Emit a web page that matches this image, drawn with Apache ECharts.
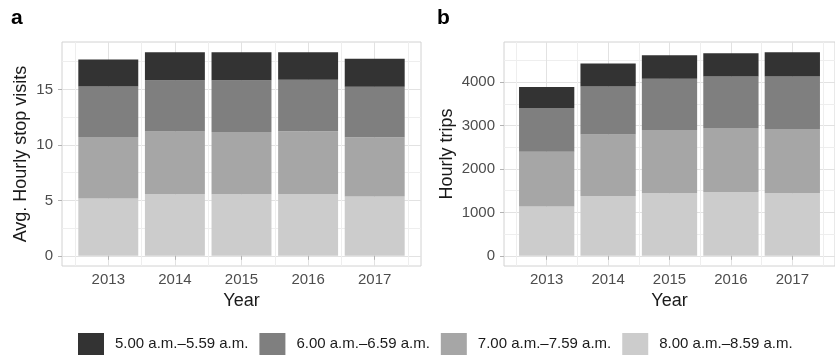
<!DOCTYPE html>
<html><head><meta charset="utf-8">
<script src="https://cdn.jsdelivr.net/npm/echarts@6/dist/echarts.min.js"></script>
<style>html,body{margin:0;padding:0;background:#fff}#c{width:835px;height:356px}</style>
</head><body><div id="c"></div>
<script>
const years = [2013, 2014, 2015, 2016, 2017];
const seriesNames = ['5.00 a.m.–5.59 a.m.', '6.00 a.m.–6.59 a.m.', '7.00 a.m.–7.59 a.m.', '8.00 a.m.–8.59 a.m.'];
// panel a: average hourly stop visits per time band
const visits5 = [2.43, 2.52, 2.52, 2.49, 2.52];
const visits6 = [4.56, 4.64, 4.67, 4.64, 4.56];
const visits7 = [5.55, 5.65, 5.62, 5.65, 5.33];
const visits8 = [5.16, 5.55, 5.55, 5.58, 5.35];
// panel b: hourly trips per time band
const trips5 = [482, 528, 543, 537, 560];
const trips6 = [1009, 1108, 1178, 1184, 1207];
const trips7 = [1262, 1416, 1461, 1477, 1484];
const trips8 = [1134, 1377, 1439, 1469, 1439];
// tick labels / gridline breaks
const ticksA = [0, 5, 10, 15];
const minorA = [2.5, 7.5, 12.5, 17.5];
const ticksB = [0, 1000, 2000, 3000, 4000];
const minorB = [500, 1500, 2500, 3500, 4500];
const minorX = [2012.5, 2013.5, 2014.5, 2015.5, 2016.5, 2017.5];
const colors = ['#333333', '#7f7f7f', '#a6a6a6', '#cccccc'];

const FONT = "'Liberation Sans', Arial, Helvetica, sans-serif";
const panelA = [visits5, visits6, visits7, visits8];
const panelB = [trips5, trips6, trips7, trips8];

function yExtent(panel) {
  const totals = years.map((_, i) => panel.reduce((s, arr) => s + arr[i], 0));
  const m = Math.max(...totals);
  return [-0.05 * m, 1.05 * m];
}
const lo = years[0] - 0.45, hi = years[years.length - 1] + 0.45;
const xExt = [lo - 0.05 * (hi - lo), hi + 0.05 * (hi - lo)];

function minorAxis(gi, ext, vals, pos) {
  return { type: 'value', gridIndex: gi, position: pos, min: ext[0], max: ext[1],
    axisLine: { show: false }, axisTick: { show: false, customValues: vals },
    axisLabel: { show: false }, splitLine: { show: true, lineStyle: { color: '#eeeeee', width: 1 } } };
}
function mainX(gi) {
  return { type: 'value', gridIndex: gi, position: 'bottom', min: xExt[0], max: xExt[1],
    axisLine: { show: false },
    axisTick: { show: true, length: 4, customValues: years, lineStyle: { color: '#b3b3b3' } },
    axisLabel: { customValues: years, formatter: v => String(v), color: '#4d4d4d', fontSize: 15, margin: 6, fontFamily: FONT },
    splitLine: { show: true, lineStyle: { color: '#e2e2e2', width: 1 } },
    name: 'Year', nameLocation: 'middle', nameGap: 24,
    nameTextStyle: { fontSize: 18, color: '#1a1a1a', fontFamily: FONT } };
}
function mainY(gi, ext, ticks, name, gap) {
  return { type: 'value', gridIndex: gi, position: 'left', min: ext[0], max: ext[1],
    axisLine: { show: false },
    axisTick: { show: true, length: 4, customValues: ticks, lineStyle: { color: '#b3b3b3' } },
    axisLabel: { customValues: ticks, formatter: v => String(v), color: '#4d4d4d', fontSize: 15, margin: 9, fontFamily: FONT },
    splitLine: { show: true, lineStyle: { color: '#e2e2e2', width: 1 } },
    name: name, nameLocation: 'middle', nameGap: gap,
    nameTextStyle: { fontSize: 18, color: '#1a1a1a', fontFamily: FONT } };
}
const extA = yExtent(panelA), extB = yExtent(panelB);

const series = [];
function addPanel(panel, xi, yi, stack) {
  for (let k = panel.length - 1; k >= 0; k--) {
    series.push({ type: 'bar', name: seriesNames[k], stack: stack, xAxisIndex: xi, yAxisIndex: yi,
      barWidth: '90%', itemStyle: { color: colors[k] },
      encode: { x: 1, y: 0 },
      data: years.map((y, i) => [panel[k][i], y]) });
  }
}
addPanel(panelA, 1, 1, 'a');
addPanel(panelB, 3, 3, 'b');

const option = {
  animation: false,
  backgroundColor: '#ffffff',
  title: [
    { text: 'a', left: 11, top: 8, padding: 0, textStyle: { fontSize: 21, fontWeight: 'bold', color: '#000', fontFamily: FONT } },
    { text: 'b', left: 437, top: 8, padding: 0, textStyle: { fontSize: 21, fontWeight: 'bold', color: '#000', fontFamily: FONT } }
  ],
  grid: [
    { left: 62, top: 42, width: 359, height: 224, show: true, borderColor: '#d2d2d2', borderWidth: 1, backgroundColor: '#fff' },
    { left: 504, top: 42, width: 342, height: 224, show: true, borderColor: '#d2d2d2', borderWidth: 1, backgroundColor: '#fff' }
  ],
  xAxis: [ minorAxis(0, xExt, minorX, 'top'), mainX(0), minorAxis(1, xExt, minorX, 'top'), mainX(1) ],
  yAxis: [ minorAxis(0, extA, minorA, 'right'), mainY(0, extA, ticksA, 'Avg. Hourly stop visits', 32),
           minorAxis(1, extB, minorB, 'right'), mainY(1, extB, ticksB, 'Hourly trips', 48) ],
  legend: {
    left: 78, top: 333, padding: 0, orient: 'horizontal', icon: 'rect',
    itemWidth: 26, itemHeight: 22, itemGap: 11,
    data: seriesNames,
    textStyle: { fontSize: 15, color: '#1a1a1a', fontFamily: FONT, padding: [0, 0, 0, 6] }
  },
  series: series
};
echarts.init(document.getElementById('c'), null, { renderer: 'canvas' }).setOption(option);
</script>
</body></html>
